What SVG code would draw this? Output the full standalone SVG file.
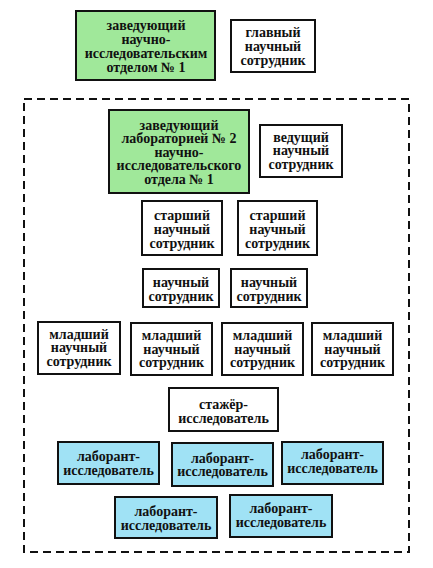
<svg xmlns="http://www.w3.org/2000/svg" width="433" height="568" viewBox="0 0 433 568">
<style>
rect.n{stroke:#111;stroke-width:2}
.g{fill:#a0e89a}
.w{fill:#fff}
.b{fill:#a0e2f5}
.t text{font-family:'Liberation Serif';font-weight:bold;font-size:14px;fill:#111;text-anchor:middle}
</style>
<rect width="433" height="568" fill="#fff"/>
<g id="connectors"></g>
<rect id="frame" x="24" y="99" width="385" height="453" fill="none" stroke="#111" stroke-width="2" stroke-dasharray="8 5"/>
<g class="t" transform="translate(0,4.5)">
<g id="n1"><rect class="n g" x="76" y="6.5" width="139" height="69"/>
<text x="146" y="25">заведующий</text><text x="146" y="39">научно-</text><text x="146" y="53">исследовательским</text><text x="146" y="67">отделом № 1</text></g>
<g id="n2"><rect class="n w" x="231" y="15.5" width="84" height="52"/>
<text x="273" y="32">главный</text><text x="273" y="46">научный</text><text x="273" y="60">сотрудник</text></g>
<g id="n3"><rect class="n g" x="109" y="105.5" width="140" height="83"/>
<text x="179" y="125">заведующий</text><text x="179" y="138.5">лабораторией № 2</text><text x="179" y="152">научно-</text><text x="179" y="165.5">исследовательского</text><text x="179" y="179">отдела № 1</text></g>
<g id="n4"><rect class="n w" x="260" y="120.5" width="82" height="52"/>
<text x="301" y="137">ведущий</text><text x="301" y="150.5">научный</text><text x="301" y="164">сотрудник</text></g>
<g id="n5"><rect class="n w" x="142" y="196.5" width="80" height="54"/>
<text x="182" y="215">старший</text><text x="182" y="229">научный</text><text x="182" y="243">сотрудник</text></g>
<g id="n6"><rect class="n w" x="238" y="196.5" width="79" height="54"/>
<text x="277.5" y="215">старший</text><text x="277.5" y="229">научный</text><text x="277.5" y="243">сотрудник</text></g>
<g id="n7"><rect class="n w" x="143" y="264.5" width="76" height="38"/>
<text x="181" y="282">научный</text><text x="181" y="296">сотрудник</text></g>
<g id="n8"><rect class="n w" x="231" y="264.5" width="76" height="38"/>
<text x="269" y="282">научный</text><text x="269" y="296">сотрудник</text></g>
<g id="n9"><rect class="n w" x="38" y="317.5" width="82" height="52"/>
<text x="79" y="334">младший</text><text x="79" y="347.5">научный</text><text x="79" y="361">сотрудник</text></g>
<g id="n10"><rect class="n w" x="131" y="318.5" width="81" height="52"/>
<text x="171.5" y="335.5">младший</text><text x="171.5" y="349">научный</text><text x="171.5" y="362.5">сотрудник</text></g>
<g id="n11"><rect class="n w" x="222" y="318.5" width="81" height="52"/>
<text x="262.5" y="335.5">младший</text><text x="262.5" y="349">научный</text><text x="262.5" y="362.5">сотрудник</text></g>
<g id="n12"><rect class="n w" x="312" y="318.5" width="81" height="52"/>
<text x="352.5" y="335.5">младший</text><text x="352.5" y="349">научный</text><text x="352.5" y="362.5">сотрудник</text></g>
<g id="n13"><rect class="n w" x="169" y="383.5" width="109" height="43"/>
<text x="223.5" y="404">стажёр-</text><text x="223.5" y="418">исследователь</text></g>
<g id="n14"><rect class="n b" x="58" y="437.5" width="101" height="42"/>
<text x="108.5" y="456">лаборант-</text><text x="108.5" y="470">исследователь</text></g>
<g id="n15"><rect class="n b" x="172" y="438.5" width="101" height="43"/>
<text x="222.5" y="458">лаборант-</text><text x="222.5" y="471.5">исследователь</text></g>
<g id="n16"><rect class="n b" x="282" y="437.5" width="101" height="42"/>
<text x="332.5" y="454.5">лаборант-</text><text x="332.5" y="468.5">исследователь</text></g>
<g id="n17"><rect class="n b" x="115" y="492.5" width="102" height="41"/>
<text x="166" y="511">лаборант-</text><text x="166" y="525">исследователь</text></g>
<g id="n18"><rect class="n b" x="230" y="490.5" width="102" height="42"/>
<text x="281" y="508.5">лаборант-</text><text x="281" y="522.5">исследователь</text></g>
</g>
</svg>
